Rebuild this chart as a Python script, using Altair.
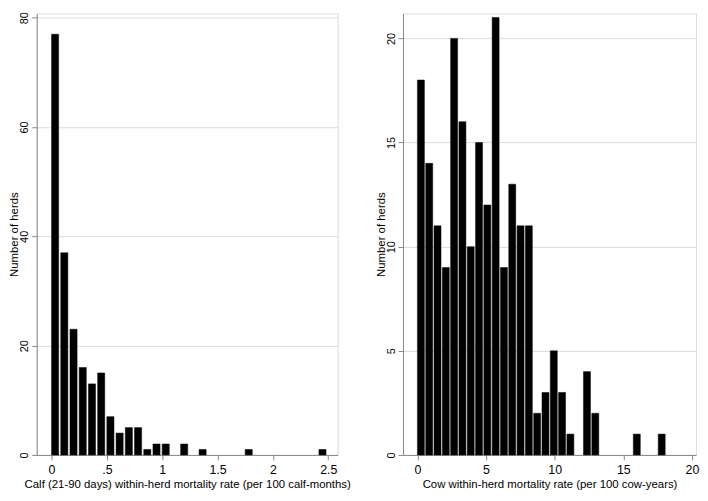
import altair as alt
import pandas as pd

# ---- data ----
calf_bin_width = 0.0833
calf_counts = [77, 37, 23, 16, 13, 15, 7, 4, 5, 5, 1, 2, 2, 0, 2, 0, 1, 0, 0, 0,
               0, 1, 0, 0, 0, 0, 0, 0, 0, 1]
cow_bin_width = 0.605
cow_counts = [18, 14, 11, 9, 20, 16, 10, 15, 12, 21, 9, 13, 11, 11, 2, 3, 5, 3, 1, 0,
              4, 2, 0, 0, 0, 0, 1, 0, 0, 1]
calf_ticks = [0, 0.5, 1, 1.5, 2, 2.5]
cow_ticks = [0, 5, 10, 15, 20]
calf_yticks = [0, 20, 40, 60, 80]
cow_yticks = [0, 5, 10, 15, 20]
calf_title = "Calf (21-90 days) within-herd mortality rate (per 100 calf-months)"
cow_title = "Cow within-herd mortality rate (per 100 cow-years)"
y_title = "Number of herds"


def make_df(counts, width, frac):
    rows = []
    for i, c in enumerate(counts):
        if c > 0:
            start = i * width
            rows.append({"x0": start, "x1": start + width * frac, "n": c, "base": 0})
    return pd.DataFrame(rows)


FONT = "Liberation Sans"


def panel(df, xdomain, ydomain, xticks, yticks, xtitle, w, h):
    return alt.Chart(df).mark_bar(color="black", stroke="black", strokeWidth=0.5).encode(
        x=alt.X("x0:Q",
                scale=alt.Scale(domain=xdomain, nice=False, zero=False),
                axis=alt.Axis(values=xticks, title=xtitle, grid=False, format="~g",
                              labelExpr="datum.value > 0 && datum.value < 1 ? substring(datum.label, 1) : datum.label",
                              tickSize=5, labelPadding=4, titlePadding=2,
                              labelFontSize=12.5, titleFontSize=11.5,
                              titleFontWeight="normal", labelFont=FONT, titleFont=FONT)),
        x2="x1:Q",
        y=alt.Y("n:Q",
                scale=alt.Scale(domain=ydomain, nice=False),
                axis=alt.Axis(values=yticks, title=y_title, grid=True,
                              labelAngle=270, labelAlign="center", labelBaseline="bottom",
                              tickSize=5, labelPadding=2,
                              titleX=-17, titleY=h / 2, titleAngle=270,
                              titleAlign="center", titleBaseline="bottom",
                              labelFontSize=11, titleFontSize=11.5,
                              titleFontWeight="normal", labelFont=FONT, titleFont=FONT)),
        y2="base:Q",
    ).properties(width=w, height=h)


left = panel(make_df(calf_counts, calf_bin_width, 0.77), [-0.134, 2.585], [0, 80.8],
             calf_ticks, calf_yticks, calf_title, 304, 446)
right = panel(make_df(cow_counts, cow_bin_width, 0.84), [-1.05, 20.3], [0, 21.2],
              cow_ticks, cow_yticks, cow_title, 296, 446)

chart = alt.hconcat(left, right, spacing=23).properties(
    padding={"left": 0, "top": 0, "right": 0, "bottom": 0}
).configure_view(stroke=None, strokeWidth=0).configure_axis(
    labelColor="#111111", titleColor="#111111",
    domainColor="#222222", tickColor="#222222",
    gridColor="#e8e8e8", gridWidth=1, domainWidth=1, tickWidth=1,
).configure(background="white")

chart.save("out.html", embed_options={"renderer": "svg", "actions": False})
